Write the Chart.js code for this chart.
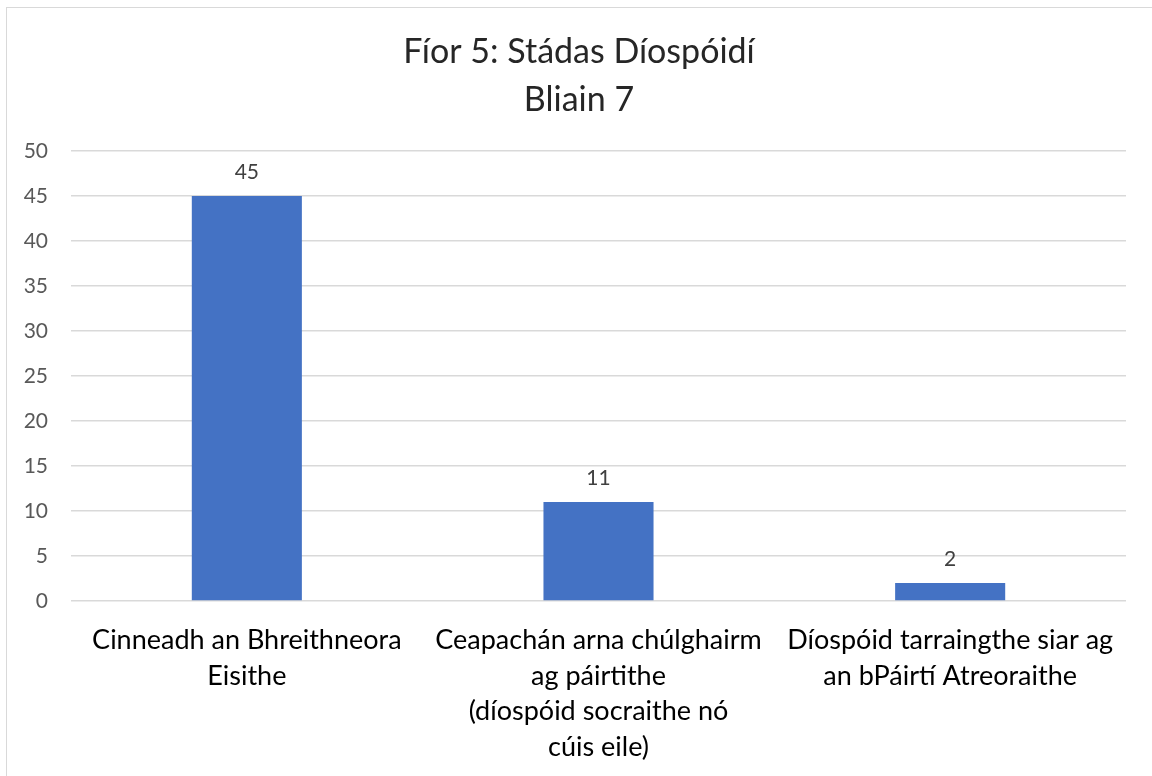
<!doctype html>
<html>
<head>
<meta charset="utf-8" />
<script src="https://cdn.jsdelivr.net/npm/chart.js@4/dist/chart.umd.min.js"></script>
<style>
  html, body { margin: 0; padding: 0; background: #fff; }
  #wrap { width: 1152px; height: 776px; }
</style>
</head>
<body>
<div id="wrap"><canvas id="c" width="1152" height="776"></canvas></div>
<script>
  const titleLines = ["Fíor 5: Stádas Díospóidí", "Bliain 7"];
  const categories = [
    ["Cinneadh an Bhreithneora", "Eisithe"],
    ["Ceapachán arna chúlghairm", "ag páirtithe", "(díospóid socraithe nó", "cúis eile)"],
    ["Díospóid tarraingthe siar ag", "an bPáirtí Atreoraithe"]
  ];
  const values = [45, 11, 2];
  const yTicks = [0, 5, 10, 15, 20, 25, 30, 35, 40, 45, 50];

  const font = "Lato, 'Open Sans', sans-serif";

  // light frame round the whole chart, plus the two-line title
  // (drawn by hand: the source centres it over the framed box, not the plot)
  const frame = {
    id: "frame",
    beforeDraw(chart) {
      const ctx = chart.ctx;
      ctx.save();
      ctx.strokeStyle = "#d9d9d9";
      ctx.lineWidth = 1;
      ctx.strokeRect(6.5, 7.5, 1150, 780);
      ctx.font = "34px " + font;
      ctx.fillStyle = "#262626";
      ctx.textAlign = "center";
      ctx.textBaseline = "middle";
      titleLines.forEach((line, i) => ctx.fillText(line, 579, 52 + i * 48));
      ctx.restore();
    }
  };

  // value above each bar
  const barLabels = {
    id: "barLabels",
    afterDatasetsDraw(chart) {
      const ctx = chart.ctx;
      const meta = chart.getDatasetMeta(0);
      ctx.save();
      ctx.font = "21px " + font;
      ctx.fillStyle = "#404040";
      ctx.textAlign = "center";
      ctx.textBaseline = "middle";
      meta.data.forEach((bar, i) => {
        ctx.fillText(String(values[i]), bar.x, bar.y - 24);
      });
      ctx.restore();
    }
  };

  new Chart(document.getElementById("c"), {
    type: "bar",
    data: {
      labels: categories,
      datasets: [{
        data: values,
        backgroundColor: "#4472C4",
        borderWidth: 0,
        barPercentage: 1,
        categoryPercentage: 0.313
      }]
    },
    options: {
      responsive: false,
      animation: false,
      layout: { padding: { left: 0, right: 26, top: 151, bottom: 0 } },
      plugins: {
        legend: { display: false },
        tooltip: { enabled: false },
        title: { display: false }
      },
      scales: {
        x: {
          grid: { display: false, drawTicks: false },
          border: { display: false },
          ticks: {
            color: "#000",
            font: { family: font, size: 27, lineHeight: 1.33 },
            padding: 21,
            maxRotation: 0,
            autoSkip: false
          },
          afterFit(scale) { scale.height = 175; }
        },
        y: {
          min: 0,
          max: 50,
          afterBuildTicks(scale) { scale.ticks = yTicks.map(v => ({ value: v })); },
          grid: { color: "#d9d9d9", lineWidth: 1.5, drawTicks: false },
          border: { display: false },
          ticks: {
            color: "#595959",
            font: { family: font, size: 21 },
            padding: 23
          },
          afterFit(scale) { scale.width = 71; }
        }
      }
    },
    plugins: [frame, barLabels]
  });
</script>
</body>
</html>
